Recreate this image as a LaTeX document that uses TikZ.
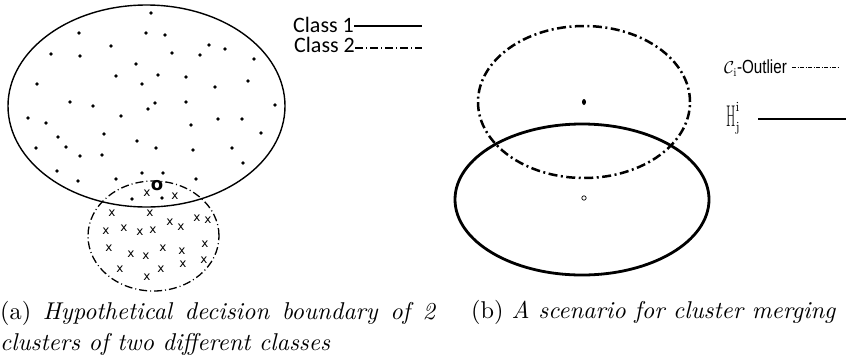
\documentclass[tikz,border=0pt]{standalone}
\usepackage{graphicx}
\usepackage{fontspec}
\newfontfamily\carlito{Carlito}
\newfontfamily\dejavu{DejaVu Sans}
\newfontfamily\libsans{Liberation Sans}
\begin{document}
\begin{tikzpicture}[x=1pt,y=-1pt,
  dot/.style={circle, fill=black, inner sep=0pt, minimum size=3.7pt},
  xmark/.style={inner sep=0pt, font=\dejavu\fontsize{12}{12}\selectfont},
  legtext/.style={inner sep=0pt, anchor=west, font=\carlito\fontsize{22}{22}\selectfont},
  dashdotthin/.style={dash pattern=on 8pt off 3pt on 1pt off 3pt},
  dashdotthick/.style={dash pattern=on 9pt off 3.5pt on 2pt off 3.5pt},
  captext/.style={inner sep=0pt, anchor=base west}
]
\useasboundingbox (0,0) rectangle (846,360);

% ---------- (a) ----------
\draw[line width=1.4pt] (146.5,106) ellipse [x radius=138.5pt, y radius=101pt];
\draw[line width=1.3pt, dashdotthin] (153.5,236) ellipse [x radius=65.5pt, y radius=55pt];

\foreach \a/\b [count=\i] in {151/13, 79/33, 146/33, 165/35, 111/46, 209/45, 225/49,
  51/54, 80/56, 172/53, 200/55, 254/59, 136/64, 116/76, 158/75, 186/77, 37/84,
  142/84, 215/87, 248/81, 70/102, 93/106, 155/103, 148/109, 186/102, 275/105,
  28/118, 46/123, 121/116, 218/119, 242/119, 191/125, 58/137, 104/134, 261/133,
  137/141, 36/148, 66/147, 156/148, 193/150, 232/148, 80/156, 102/155, 243/163,
  57/171, 78/181, 116/179, 142/173, 163/173, 196/179, 132/199, 162/198}
  \node[dot] (d\i) at (\a,\b) {};

\foreach \a/\b [count=\i] in {147/193, 175/196, 112/213, 150/213, 170/222, 181/227,
  197/218, 208/220, 106/231, 124/228, 140/232, 153/230, 109/248, 131/254, 146/256,
  163/248, 182/251, 205/244, 183/264, 204/260, 120/269, 161/269, 147/277}
  \node[xmark] (x\i) at (\a,\b) {x};

\node[inner sep=0pt, font=\dejavu\bfseries\fontsize{18}{18}\selectfont] (o1) at (157,186) {o};

% legend (a)
\node[legtext] (c1) at (293,25) {Class 1};
\coordinate (c1e) at (422,26);
\draw[line width=1.2pt] (c1.east |- c1e) -- (c1e);
\node[legtext] (c2) at (294,45) {Class 2};
\coordinate (c2e) at (422,48);
\draw[line width=1.2pt, dashdotthin] (c2.east |- c2e) -- (c2e);

% ---------- (b) ----------
\draw[line width=2.5pt, dashdotthick] (584,102) ellipse [x radius=106pt, y radius=76pt];
\draw[line width=2.8pt] (582,199.5) ellipse [x radius=127pt, y radius=75.5pt];
\fill (584,102) ellipse [x radius=2pt, y radius=3pt];
\draw[line width=0.7pt] (584,198) circle [radius=2.2pt];

% legend (b)
\node[inner sep=0pt, anchor=west, font=\fontsize{17}{17}\selectfont] (ol) at (724,68)
  {$\mathcal{C}_{\mathrm{i}}$\scalebox{0.8}[1]{\libsans\fontsize{19}{19}\selectfont-Outlier}};
\coordinate (ole) at (838,67);
\draw[line width=0.7pt, dash pattern=on 4pt off 1.5pt on 1pt off 1.5pt] ([xshift=5pt]ol.east |- ole) -- (ole);

\node[inner sep=0pt, anchor=west, font=\fontsize{20}{20}\selectfont] (h) at (726,118)
  {$\scalebox{0.45}[1]{\fontsize{30}{30}\selectfont H}^{\mathrm{i}}_{\mathrm{j}}$};
\coordinate (he) at (846,119);
\draw[line width=1.5pt] (758,119) -- (he);

% ---------- captions ----------
\node[captext] (capa1) at (0,319)
  {\scalebox{2.43}{\normalsize\makebox[179.4pt][s]{(a) \textit{Hypothetical decision boundary of 2}}}};
\node[captext] (capa2) at (0,350)
  {\scalebox{2.43}{\normalsize\textit{clusters of two different classes}}};
\node[captext] (capb) at (471,318)
  {\scalebox{2.43}{\normalsize(b) \textit{A scenario for cluster merging}}};
\end{tikzpicture}
\end{document}
